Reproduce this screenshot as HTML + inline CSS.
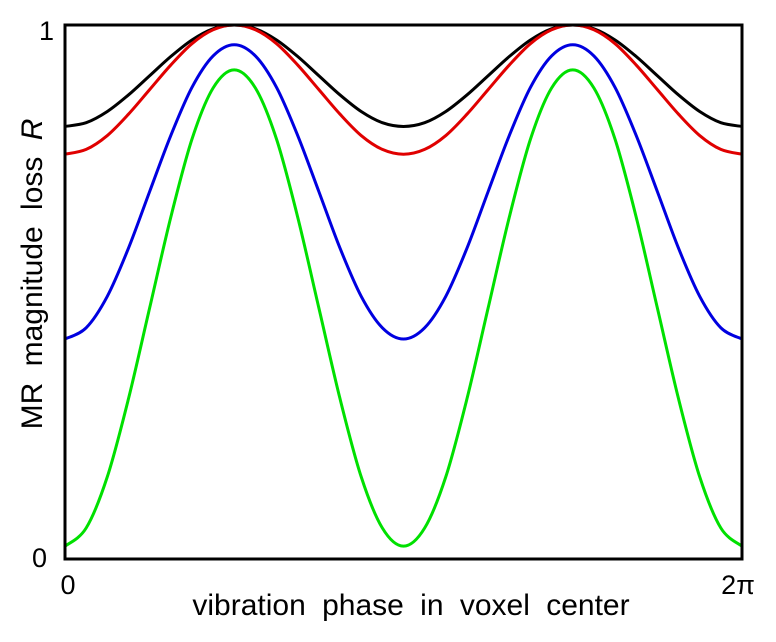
<!DOCTYPE html>
<html><head><meta charset="utf-8"><style>
body{margin:0;background:#fff;}
svg{display:block;font-family:"Liberation Sans",Arial,sans-serif;}
</style></head><body>
<svg id="chart" width="776" height="642" viewBox="0 0 776 642">
<g id="plot"></g>
<rect x="65" y="25" width="677" height="534" fill="none" stroke="#000" stroke-width="3"/>
<text x="54" y="40" font-size="27" text-anchor="end">1</text>
<text x="47" y="567" font-size="27" text-anchor="end">0</text>
<text x="68" y="594" font-size="27" text-anchor="middle">0</text>
<text x="738" y="594" font-size="27" text-anchor="middle">2π</text>
<text x="411" y="615" font-size="30" word-spacing="8" text-anchor="middle">vibration phase in voxel center</text>
<text transform="translate(42,274) rotate(-90)" font-size="30" word-spacing="8" text-anchor="middle">MR magnitude loss <tspan font-style="italic">R</tspan></text>
</svg>
<script>
const phases = [0,1,2,3,4,5,6,7,8,9,10,11,12,13,14,15,16,17,18,19,20,21,22,23,24,25,26,27,28,29,30,31,32]; // units of pi/16
const blackVals = [0.81,0.817,0.838,0.869,0.905,0.941,0.972,0.993,1.0,0.993,0.972,0.941,0.905,0.869,0.838,0.817,0.81,0.817,0.838,0.869,0.905,0.941,0.972,0.993,1.0,0.993,0.972,0.941,0.905,0.869,0.838,0.817,0.81];
const redVals = [0.758,0.767,0.793,0.833,0.879,0.925,0.965,0.991,1.0,0.991,0.965,0.925,0.879,0.833,0.793,0.767,0.758,0.767,0.793,0.833,0.879,0.925,0.965,0.991,1.0,0.991,0.965,0.925,0.879,0.833,0.793,0.767,0.758];
const blueVals = [0.412,0.433,0.492,0.582,0.688,0.793,0.883,0.942,0.963,0.942,0.883,0.793,0.688,0.582,0.492,0.433,0.412,0.433,0.492,0.582,0.688,0.793,0.883,0.942,0.963,0.942,0.883,0.793,0.688,0.582,0.492,0.433,0.412];
const greenVals = [0.024,0.058,0.154,0.30,0.47,0.64,0.786,0.882,0.916,0.882,0.786,0.64,0.47,0.30,0.154,0.058,0.024,0.058,0.154,0.30,0.47,0.64,0.786,0.882,0.916,0.882,0.786,0.64,0.47,0.30,0.154,0.058,0.024];
const X0=65,X1=742,Y0=559,Y1=25;
function xs(p){return X0+(X1-X0)*p/32;}
function ys(v){return Y0-(Y0-Y1)*v;}
function pathFor(vals){
  const pts=phases.map((p,i)=>[xs(p),ys(vals[i])]);
  let d=`M${pts[0][0]},${pts[0][1]}`;
  for(let i=0;i<pts.length-1;i++){
    const p0=pts[Math.max(0,i-1)],p1=pts[i],p2=pts[i+1],p3=pts[Math.min(pts.length-1,i+2)];
    const c1=[p1[0]+(p2[0]-p0[0])/6,p1[1]+(p2[1]-p0[1])/6];
    const c2=[p2[0]-(p3[0]-p1[0])/6,p2[1]-(p3[1]-p1[1])/6];
    d+=` C${c1[0]},${c1[1]} ${c2[0]},${c2[1]} ${p2[0]},${p2[1]}`;
  }
  return d;
}
const g=document.getElementById('plot');
const series=[[greenVals,'#00e000','series-green'],[blueVals,'#0000e0','series-blue'],[blackVals,'#000','series-black'],[redVals,'#e00000','series-red']];
series.forEach(s=>{
  const p=document.createElementNS('http://www.w3.org/2000/svg','path');
  p.setAttribute('d',pathFor(s[0]));
  p.setAttribute('fill','none');
  p.setAttribute('stroke',s[1]);
  p.setAttribute('stroke-width','3');
  
  
  g.appendChild(p);
});
</script>
</body></html>
